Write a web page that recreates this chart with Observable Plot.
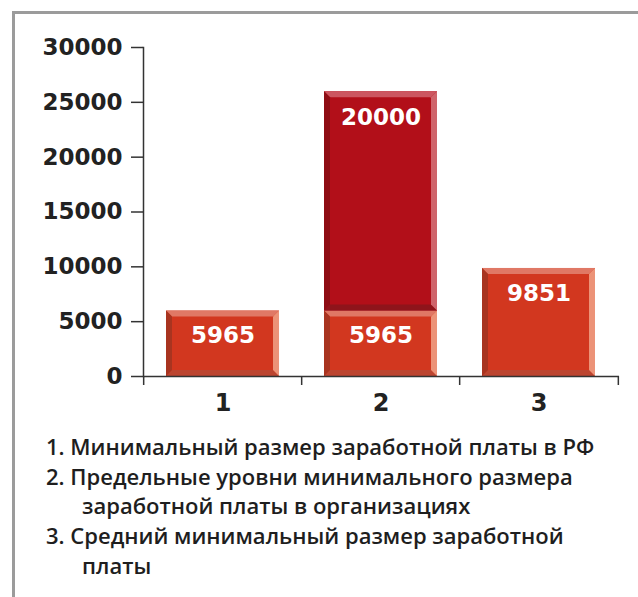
<!DOCTYPE html>
<html>
<head>
<meta charset="utf-8">
<script src="https://cdn.jsdelivr.net/npm/d3@7"></script>
<script src="https://cdn.jsdelivr.net/npm/@observablehq/plot@0.6"></script>
<style>
  html, body { margin: 0; padding: 0; background: #fff; }
  body { width: 638px; height: 597px; position: relative; overflow: hidden; }
  #frame { position: absolute; left: 12px; top: 11px; width: 640px; height: 600px;
           border-left: 3px solid #9b9b9b; border-top: 3px solid #9b9b9b; }
  #chart { position: absolute; left: 0; top: 0; }
  #legend { position: absolute; left: 46px; top: 432px; font-family: 'Open Sans', sans-serif;
            font-weight: 600; font-size: 22px; line-height: 29.7px; color: #1e1e1e; white-space: nowrap; }
  #legend .cont { padding-left: 36px; }
</style>
</head>
<body>
<div id="frame"></div>
<div id="chart"></div>
<div id="legend"></div>
<script>
const categories = ["1", "2", "3"];
const baseValues = [5965, 5965, 9851];
const extraValues = [0, 20000, 0];
const yTicks = [0, 5000, 10000, 15000, 20000, 25000, 30000];
const legendItems = [
  ["1. Минимальный размер заработной платы в РФ"],
  ["2. Предельные уровни минимального размера", "заработной платы в организациях"],
  ["3. Средний минимальный размер заработной", "платы"]
];

const base = categories.map((c, i) => ({cat: c, y1: 0, y2: baseValues[i], label: baseValues[i]}));
const extra = categories.map((c, i) => ({cat: c, y1: baseValues[i], y2: baseValues[i] + extraValues[i], label: extraValues[i]}))
  .filter(d => d.label > 0);

const W = 638, H = 420, mL = 143, mR = 19;
const step = (W - mL - mR) / categories.length;
const font = "'DejaVu Sans', sans-serif";

function bevel(pal) {
  return function(index, scales, values, dims, ctx, next) {
    const g = next(index, scales, values, dims, ctx);
    const ns = "http://www.w3.org/2000/svg";
    for (const r of [...g.querySelectorAll("rect")]) {
      const x = +r.getAttribute("x"), y = +r.getAttribute("y");
      const w = +r.getAttribute("width"), h = +r.getAttribute("height");
      const b = 6;
      const polys = [
        [pal.top, [[x, y], [x + w, y], [x + w - b, y + b], [x + b, y + b]]],
        [pal.bottom, [[x, y + h], [x + w, y + h], [x + w - b, y + h - b], [x + b, y + h - b]]],
        [pal.left, [[x, y], [x + b, y + b], [x + b, y + h - b], [x, y + h]]],
        [pal.right, [[x + w, y], [x + w - b, y + b], [x + w - b, y + h - b], [x + w, y + h]]]
      ];
      for (const [c, pts] of polys) {
        const p = document.createElementNS(ns, "polygon");
        p.setAttribute("points", pts.map(d => d.join(",")).join(" "));
        p.setAttribute("fill", c);
        g.appendChild(p);
      }
    }
    return g;
  };
}

const orange = {top: "#E07865", bottom: "#BC4530", left: "#A83420", right: "#EC9378"};
const darkred = {top: "#CC5660", bottom: "#8E141B", left: "#8E0D14", right: "#CF646B"};

const chart = Plot.plot({
  width: W,
  height: H,
  marginLeft: mL,
  marginRight: mR,
  marginTop: 47,
  marginBottom: 44,
  style: {fontFamily: font, background: "transparent", overflow: "visible"},
  x: {domain: categories, paddingInner: 0.283, paddingOuter: 0.1415, label: null},
  y: {domain: [0, 30000], label: null},
  marks: [
    Plot.barY(base, {x: "cat", y1: "y1", y2: "y2", fill: "#D2371F", render: bevel(orange)}),
    Plot.barY(extra, {x: "cat", y1: "y1", y2: "y2", fill: "#B20F19", render: bevel(darkred)}),
    Plot.text(base, {x: "cat", y: "y2", text: d => String(d.label), dy: 25, fill: "white",
      fontSize: 23, fontWeight: "bold", fontFamily: font, style: "letter-spacing:0.6px"}),
    Plot.text(extra, {x: "cat", y: "y2", text: d => String(d.label), dy: 26, fill: "white",
      fontSize: 23, fontWeight: "bold", fontFamily: font}),
    Plot.axisY(yTicks, {tickSize: 12, tickPadding: 9, tickFormat: d => String(d), fontSize: 23,
      fontWeight: "bold", fill: "#222", stroke: "#333", strokeWidth: 1.5, label: null}),
    Plot.frame({anchor: "left", stroke: "#333", strokeWidth: 1.5}),
    Plot.axisX({tickSize: 0, tickPadding: 17, fontSize: 24, fontWeight: "bold", fill: "#222", label: null}),
    Plot.axisX(categories, {text: null, tickSize: 9, dx: -step / 2, stroke: "#333", strokeWidth: 1.5, label: null}),
    Plot.axisX([categories[categories.length - 1]], {text: null, tickSize: 9, dx: step / 2, stroke: "#333", strokeWidth: 1.5, label: null}),
    Plot.ruleY([0], {stroke: "#333", strokeWidth: 1.5})
  ]
});
document.getElementById("chart").appendChild(chart);

const legend = document.getElementById("legend");
for (const item of legendItems) {
  item.forEach((line, j) => {
    const div = document.createElement("div");
    div.textContent = line;
    if (j > 0) div.className = "cont";
    legend.appendChild(div);
  });
}
</script>
</body>
</html>
